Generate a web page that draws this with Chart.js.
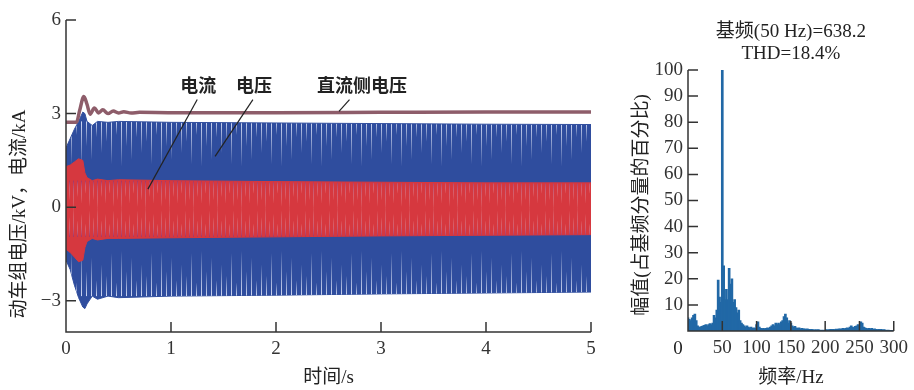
<!DOCTYPE html>
<html>
<head>
<meta charset="utf-8">
<script src="https://cdn.jsdelivr.net/npm/chart.js@4.4.1/dist/chart.umd.min.js"></script>
<style>
  html, body { margin: 0; padding: 0; background: #fff; }
  #wrap { position: relative; width: 914px; height: 390px; }
  #wave { position: absolute; left: 0; top: 0; }
  #fft { position: absolute; left: 620px; top: 0; }
</style>
</head>
<body>
<div id="wrap">
  <canvas id="wave" width="620" height="390"></canvas>
  <canvas id="fft" width="294" height="390"></canvas>
</div>
<script>
// time-domain envelopes (s, kV / kA)
const timeS      = [0, 0.04, 0.08, 0.12, 0.16, 0.18, 0.2, 0.25, 0.3, 0.4, 0.5, 1, 2, 3, 4, 5];
const voltUpper  = [1.9, 2.2, 2.5, 2.75, 3.05, 3.0, 2.75, 2.62, 2.75, 2.72, 2.75, 2.72, 2.7, 2.68, 2.66, 2.65];
const voltLower  = [-1.7, -2.0, -2.5, -2.9, -3.2, -3.25, -3.1, -2.85, -2.95, -2.85, -2.9, -2.85, -2.82, -2.78, -2.75, -2.72];
const currUpper  = [1.3, 1.35, 1.45, 1.55, 1.5, 1.1, 0.95, 0.85, 0.9, 0.85, 0.88, 0.85, 0.82, 0.8, 0.78, 0.78];
const currLower  = [-1.35, -1.45, -1.6, -1.75, -1.7, -1.3, -1.1, -1.0, -1.05, -1.0, -1.0, -0.98, -0.95, -0.92, -0.9, -0.88];
const dcTimeS    = [0, 0.1, 0.13, 0.17, 0.2, 0.23, 0.27, 0.31, 0.35, 0.4, 0.45, 0.5, 0.55, 0.62, 0.7, 1, 2, 3, 4, 5];
const dcVolt     = [2.72, 2.72, 3.1, 3.55, 3.3, 2.98, 3.18, 3.02, 3.12, 3.0, 3.08, 3.02, 3.06, 3.02, 3.04, 3.03, 3.03, 3.04, 3.05, 3.05];
const waveXTicks = [0, 1, 2, 3, 4, 5];
const waveYTicks = [-3, 0, 3, 6];

// spectrum, 2 Hz bins from 0 to 300 Hz (% of fundamental)
const spectrumPct = [
  5, 4.5, 4, 5, 6, 6.5, 4, 2, 1.5, 1.5,
  1.8, 2, 2.2, 2.5, 2, 2.5, 2.8, 2.5, 3, 6,
  5, 8, 19.5, 13, 11, 100, 25, 12, 16, 12,
  24, 18, 20, 11, 12, 9, 7, 8, 4, 3,
  2.5, 2, 1.5, 2, 1.5, 1.2, 1.5, 1, 1.2, 1,
  2.5, 3.5, 1.5, 1, 0.8, 1, 0.8, 1, 1.2, 1,
  1.5, 2, 2.5, 2, 3, 2.5, 3, 2.5, 3.5, 4,
  5.5, 6.5, 5, 3, 4, 3, 2, 1.5, 1.8, 1.2,
  1, 1.2, 0.8, 1, 0.8, 0.8, 0.6, 0.8, 0.6, 0.5,
  0.6, 0.5, 0.4, 0.5, 0.4, 0.5, 0.4, 0.3, 0.4, 0.3,
  0.4, 0.5, 0.4, 0.5, 0.6, 0.5, 0.6, 0.5, 0.7, 0.6,
  0.8, 0.7, 0.8, 1, 0.8, 1, 1.2, 1, 1.5, 2,
  1.5, 1.2, 1.8, 2, 2.5, 1.5, 3.5, 3, 1.5, 1.2,
  1, 0.8, 1, 0.8, 1, 0.6, 0.8, 0.6, 0.5, 0.6,
  0.5, 0.6, 0.4, 0.5, 0.4, 0.3, 0.4, 0.3, 0.2, 0.3,
  0.2
];
const freqHz = spectrumPct.map((_, i) => i * 2);
const fftXTicks = [50, 100, 150, 200, 250, 300];
const fftYTicks = [10, 20, 30, 40, 50, 60, 70, 80, 90, 100];

const NUM_FONT = "'Liberation Serif', 'Times New Roman', serif";
const MIX_FONT = "'Liberation Serif', 'Noto Sans CJK SC', serif";
const AXIS = '#333';

const pts = (xs, ys) => xs.map((x, i) => ({ x, y: ys[i] }));
const minus = v => (v < 0 ? '\u2212' + Math.abs(v) : String(v));

// inner tick marks + axis lines redrawn over the data
const innerTicks = {
  id: 'innerTicks',
  afterDatasetsDraw(chart, args, opts) {
    const { ctx, chartArea: a, scales: { x, y } } = chart;
    ctx.save();
    ctx.strokeStyle = AXIS;
    ctx.lineWidth = 1.5;
    ctx.beginPath();
    ctx.moveTo(a.left, a.top);
    ctx.lineTo(a.left, a.bottom);
    ctx.lineTo(a.right, a.bottom);
    opts.xTicks.forEach(v => {
      const px = x.getPixelForValue(v);
      ctx.moveTo(px, a.bottom);
      ctx.lineTo(px, a.bottom - 10);
    });
    opts.yTicks.forEach(v => {
      const py = y.getPixelForValue(v);
      ctx.moveTo(a.left, py);
      ctx.lineTo(a.left + 10, py);
    });
    ctx.stroke();
    ctx.restore();
  }
};

// axis titles and notes
const labels = {
  id: 'labels',
  afterDraw(chart, args, opts) {
    const { ctx, chartArea: a, scales: { x, y } } = chart;
    ctx.save();
    ctx.fillStyle = '#222';
    ctx.textAlign = 'center';
    ctx.textBaseline = 'middle';
    ctx.font = '19px ' + MIX_FONT;
    ctx.fillText(opts.xTitle, (a.left + a.right) / 2, 378);
    ctx.save();
    ctx.translate(opts.yTitlePos[0], opts.yTitlePos[1]);
    ctx.rotate(-Math.PI / 2);
    ctx.fillText(opts.yTitle, 0, 0);
    ctx.restore();
    (opts.top || []).forEach(t => {
      ctx.font = '19px ' + MIX_FONT;
      ctx.fillText(t.text, (a.left + a.right) / 2, t.y);
    });
    (opts.notes || []).forEach(n => {
      ctx.font = 'bold 18px ' + MIX_FONT;
      ctx.fillText(n.text, x.getPixelForValue(n.at[0]), y.getPixelForValue(n.at[1]));
      if (n.from) {
        ctx.strokeStyle = '#222';
        ctx.lineWidth = 1.2;
        ctx.beginPath();
        ctx.moveTo(x.getPixelForValue(n.from[0]), y.getPixelForValue(n.from[1]));
        ctx.lineTo(x.getPixelForValue(n.to[0]), y.getPixelForValue(n.to[1]));
        ctx.stroke();
      }
    });
    if (opts.zeroLabel) {
      ctx.font = '19px ' + NUM_FONT;
      ctx.fillText('0', x.getPixelForValue(0) - 10, 349);
    }
    ctx.restore();
  }
};

const waveChart = new Chart(document.getElementById('wave'), {
  type: 'line',
  data: {
    datasets: [
      { data: pts(dcTimeS, dcVolt), borderColor: '#8e5d6a', borderWidth: 3.5, pointRadius: 0, cubicInterpolationMode: 'monotone', fill: false },
      { data: pts(timeS, currUpper), borderColor: '#d6383f', borderWidth: 1, pointRadius: 0, fill: '+1', backgroundColor: '#d6383f' },
      { data: pts(timeS, currLower), borderColor: '#d6383f', borderWidth: 1, pointRadius: 0, fill: false },
      { data: pts(timeS, voltUpper), borderColor: '#33509f', borderWidth: 1, pointRadius: 0, fill: '+1', backgroundColor: '#2f4d9e' },
      { data: pts(timeS, voltLower), borderColor: '#33509f', borderWidth: 1, pointRadius: 0, fill: false }
    ]
  },
  options: {
    responsive: false,
    animation: false,
    layout: { padding: { left: 0, top: 20, right: 29, bottom: 0 } },
    plugins: {
      legend: { display: false },
      tooltip: { enabled: false },
      innerTicks: { xTicks: [1, 2, 3, 4, 5], yTicks: waveYTicks },
      labels: {
        xTitle: '时间/s',
        yTitle: '动车组电压/kV，电流/kA',
        yTitlePos: [20, 214],
        notes: [
          { text: '电流', at: [1.26, 3.83], from: [1.25, 3.45], to: [0.78, 0.58] },
          { text: '电压', at: [1.79, 3.83], from: [1.78, 3.45], to: [1.42, 1.63] },
          { text: '直流侧电压', at: [2.82, 3.83], from: [2.70, 3.45], to: [2.60, 3.07] }
        ]
      }
    },
    scales: {
      x: {
        type: 'linear', min: 0, max: 5,
        afterFit: s => { s.height = 58; },
        afterBuildTicks: s => { s.ticks = waveXTicks.map(v => ({ value: v })); },
        grid: { display: false, drawTicks: false },
        border: { display: false },
        ticks: { padding: 6, color: AXIS, font: { family: NUM_FONT, size: 19 } }
      },
      y: {
        min: -4, max: 6,
        afterFit: s => { s.width = 66; },
        afterBuildTicks: s => { s.ticks = waveYTicks.map(v => ({ value: v })); },
        grid: { display: false, drawTicks: false },
        border: { display: false },
        ticks: { padding: 5, color: AXIS, font: { family: NUM_FONT, size: 19 }, callback: v => minus(v) }
      }
    }
  },
  plugins: [innerTicks, labels]
});

// texture for the dense waveform: pale streaks from the outer envelope inward
function streakPattern(chart, base, streak, bands, period, lens) {
  const c = document.createElement('canvas');
  c.width = period * lens.length;
  c.height = chart.height;
  const g = c.getContext('2d');
  g.fillStyle = base;
  g.fillRect(0, 0, c.width, c.height);
  const y = chart.scales.y;
  bands.forEach(([outer, inner]) => {
    const y0 = y.getPixelForValue(outer);
    const y1 = y.getPixelForValue(inner);
    lens.forEach((f, i) => {
      const ye = y0 + (y1 - y0) * f;
      const grad = g.createLinearGradient(0, y0, 0, ye);
      grad.addColorStop(0, streak);
      grad.addColorStop(1, 'rgba(255,255,255,0)');
      g.strokeStyle = grad;
      g.lineWidth = 1;
      g.beginPath();
      g.moveTo(i * period + 1.5, y0);
      g.lineTo(i * period + 1.5, ye);
      g.stroke();
    });
  });
  return g.createPattern(c, 'repeat');
}

waveChart.data.datasets[3].backgroundColor = streakPattern(
  waveChart, '#2f4d9e', 'rgba(205,214,242,1)',
  [[2.75, 1.3], [-2.85, -1.4]], 5, [1, 0.55, 0.85, 0.35, 0.7, 0.45, 0.95, 0.3]);
waveChart.data.datasets[1].backgroundColor = streakPattern(
  waveChart, '#d6383f', 'rgba(150,50,110,0.8)',
  [[0.85, -0.2], [-0.95, 0.1]], 4, [0.9, 0.5, 0.7, 0.4, 0.8, 0.6]);
waveChart.update('none');

new Chart(document.getElementById('fft'), {
  type: 'bar',
  data: {
    datasets: [{
      data: pts(freqHz, spectrumPct),
      backgroundColor: '#2168a6',
      borderWidth: 0,
      barThickness: 2,
      grouped: false
    }]
  },
  options: {
    responsive: false,
    animation: false,
    layout: { padding: { left: 0, top: 70, right: 16, bottom: 0 } },
    plugins: {
      legend: { display: false },
      tooltip: { enabled: false },
      innerTicks: { xTicks: fftXTicks, yTicks: fftYTicks },
      labels: {
        xTitle: '频率/Hz',
        yTitle: '幅值(占基频分量的百分比)',
        yTitlePos: [22, 205],
        top: [{ text: '基频(50 Hz)=638.2', y: 32 }, { text: 'THD=18.4%', y: 54 }],
        zeroLabel: true
      }
    },
    scales: {
      x: {
        type: 'linear', min: 0, max: 300, offset: false,
        afterFit: s => { s.height = 59; },
        afterBuildTicks: s => { s.ticks = fftXTicks.map(v => ({ value: v })); },
        grid: { display: false, drawTicks: false },
        border: { display: false },
        ticks: { padding: 6, color: AXIS, maxRotation: 0, autoSkip: false, font: { family: NUM_FONT, size: 19 } }
      },
      y: {
        min: 0, max: 100,
        afterFit: s => { s.width = 68; },
        afterBuildTicks: s => { s.ticks = fftYTicks.map(v => ({ value: v })); },
        grid: { display: false, drawTicks: false },
        border: { display: false },
        ticks: { padding: 5, color: AXIS, font: { family: NUM_FONT, size: 19 } }
      }
    }
  },
  plugins: [innerTicks, labels]
});
</script>
</body>
</html>
